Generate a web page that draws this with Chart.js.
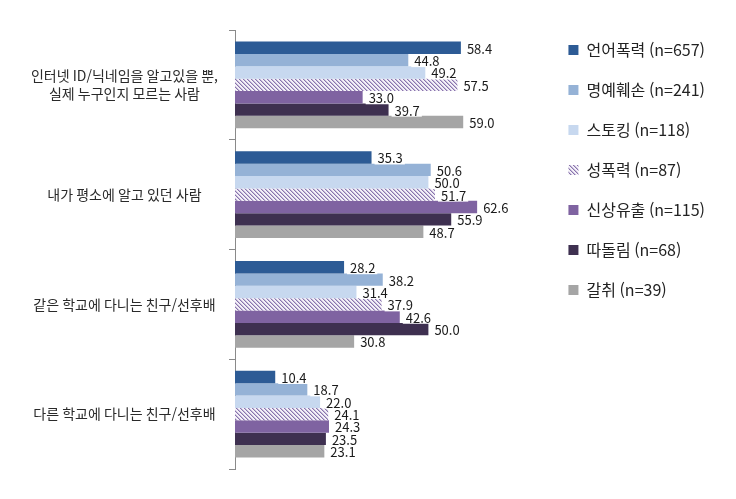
<!DOCTYPE html>
<html lang="ko">
<head>
<meta charset="utf-8">
<title>가해자 유형별 피해 경험</title>
<script src="https://cdn.jsdelivr.net/npm/chart.js@4/dist/chart.umd.min.js"></script>
<style>
  body { margin: 0; background: #fff; }
  #wrap { width: 736px; height: 499px; }
</style>
</head>
<body>
<div id="wrap"><canvas id="grafico" width="736" height="499"></canvas></div>
<script>
// categorias (eje vertical)
const categorias = [
  ['인터넷 ID/닉네임을 알고있을 뿐,', '실제 누구인지 모르는 사람'],
  '내가 평소에 알고 있던 사람',
  '같은 학교에 다니는 친구/선후배',
  '다른 학교에 다니는 친구/선후배'
];

const nombresSeries = [
  '언어폭력 (n=657)',
  '명예훼손 (n=241)',
  '스토킹 (n=118)',
  '성폭력 (n=87)',
  '신상유출 (n=115)',
  '따돌림 (n=68)',
  '갈취 (n=39)'
];

const verbal = [58.4, 35.3, 28.2, 10.4];
const difamacion = [44.8, 50.6, 38.2, 18.7];
const acoso = [49.2, 50.0, 31.4, 22.0];
const sexual = [57.5, 51.7, 37.9, 24.1];
const filtracion = [33.0, 62.6, 42.6, 24.3];
const exclusion = [39.7, 55.9, 50.0, 23.5];
const extorsion = [59.0, 48.7, 30.8, 23.1];

const fuente = '"Noto Sans CJK KR", "Noto Sans", sans-serif';

// trama rayada para 성폭력
function crearTrama() {
  const c = document.createElement('canvas');
  c.width = 4;
  c.height = 4;
  const g = c.getContext('2d');
  g.fillStyle = '#f4f1f8';
  g.fillRect(0, 0, 4, 4);
  for (let i = 0; i < 4; i++) {
    g.fillStyle = '#8a74ad';
    g.fillRect(i, i, 1, 1);
    g.fillStyle = '#c6bcda';
    g.fillRect((i + 1) % 4, i, 1, 1);
  }
  return g.createPattern(c, 'repeat');
}

const colores = ['#2d5b95', '#95b2d6', '#c7d8ef', crearTrama(), '#7f63a1', '#3e3050', '#a5a5a5'];
const valores = [verbal, difamacion, acoso, sexual, filtracion, exclusion, extorsion];

const etiquetasValor = {
  id: 'etiquetasValor',
  afterDatasetsDraw(chart) {
    const ctx = chart.ctx;
    ctx.save();
    ctx.font = '13px ' + fuente;
    ctx.textBaseline = 'middle';
    chart.data.datasets.forEach((ds, i) => {
      chart.getDatasetMeta(i).data.forEach((bar, j) => {
        const texto = ds.data[j].toFixed(1);
        const w = ctx.measureText(texto).width;
        ctx.fillStyle = '#fff';
        ctx.fillRect(bar.x + 3, bar.y - 5, w + 5, 12);
        ctx.fillStyle = '#1a1a1a';
        ctx.fillText(texto, bar.x + 6, bar.y + 1);
      });
    });
    ctx.restore();
  }
};

new Chart(document.getElementById('grafico'), {
  type: 'bar',
  data: {
    labels: categorias,
    datasets: nombresSeries.map((nombre, i) => ({
      label: nombre,
      data: valores[i],
      backgroundColor: colores[i],
      borderWidth: 0,
      categoryPercentage: 0.79,
      barPercentage: 1.0
    }))
  },
  options: {
    indexAxis: 'y',
    responsive: false,
    animation: false,
    devicePixelRatio: 1,
    layout: { padding: { top: 18, bottom: 30, left: 0, right: 21 } },
    plugins: {
      tooltip: { enabled: false },
      legend: {
        position: 'right',
        align: 'start',
        labels: {
          boxWidth: 10,
          boxHeight: 10,
          padding: 24,
          color: '#222',
          font: { family: fuente, size: 16 }
        }
      }
    },
    scales: {
      x: {
        position: 'top',
        min: 0,
        max: 80,
        grid: { display: false },
        border: { display: false },
        ticks: { display: false },
        afterFit: (eje) => { eje.height = 12; }
      },
      y: {
        grid: { drawOnChartArea: false, tickLength: 6, color: '#8a8a8a' },
        border: { color: '#8a8a8a' },
        ticks: {
          crossAlign: 'center',
          padding: 11,
          color: '#2a2a2a',
          font: { family: fuente, size: 14, lineHeight: 1.25 }
        },
        afterFit: (eje) => { eje.width = 235; }
      }
    }
  },
  plugins: [etiquetasValor]
});
</script>
</body>
</html>
